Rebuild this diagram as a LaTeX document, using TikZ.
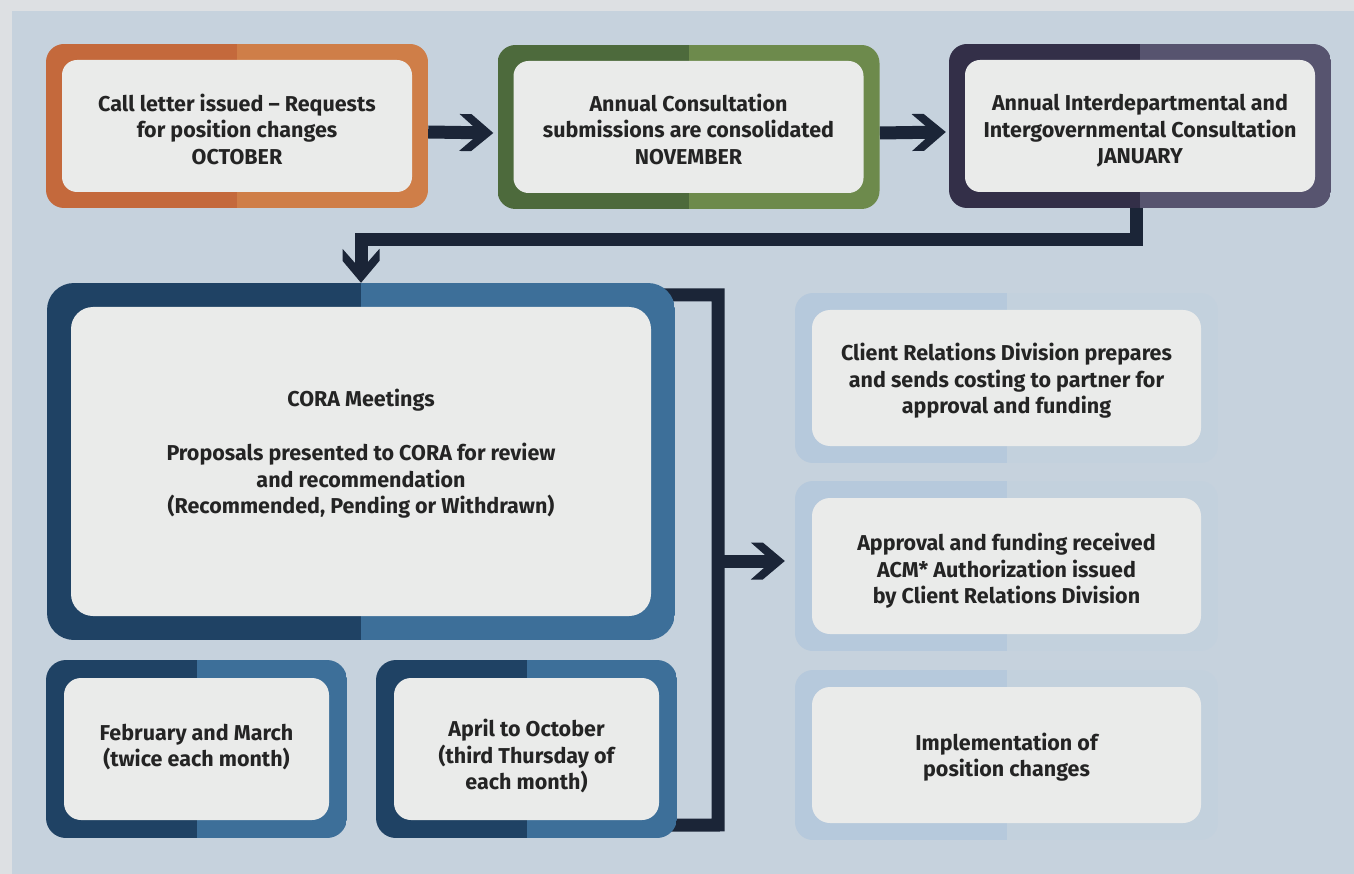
\documentclass[tikz,border=0pt]{standalone}
\usepackage{fontspec}
\setmainfont{Fira Sans}
\usetikzlibrary{calc}

\definecolor{page}{HTML}{DDE0E3}
\definecolor{bg}{HTML}{C6D2DD}
\definecolor{inner}{HTML}{EAEBEA}
\definecolor{txt}{HTML}{242424}
\definecolor{conn}{HTML}{1B2537}
\definecolor{orangeL}{HTML}{C4693C}
\definecolor{orangeR}{HTML}{CF7E48}
\definecolor{greenL}{HTML}{4D6A3C}
\definecolor{greenR}{HTML}{6D8A4C}
\definecolor{purpleL}{HTML}{332F48}
\definecolor{purpleR}{HTML}{57546F}
\definecolor{blueL}{HTML}{1F4264}
\definecolor{blueR}{HTML}{3D6F99}
\definecolor{paleL}{HTML}{B6C9DC}
\definecolor{paleR}{HTML}{C3D1DD}

\pgfdeclarelayer{back}
\pgfsetlayers{back,main}

% thick chevron head used on every connector
\pgfdeclarearrow{
  name = Chevron,
  setup code = {
    \pgfarrowssettipend{0pt}
    \pgfarrowssetlineend{-8pt}
    \pgfarrowssetbackend{-34pt}
    \pgfarrowsupperhullpoint{-34pt}{18.5pt}
    \pgfarrowshullpoint{0pt}{0pt}
  },
  drawing code = {
    \pgfsetfillcolor{conn}
    \pgfpathmoveto{\pgfqpoint{0pt}{0pt}}
    \pgfpathlineto{\pgfqpoint{-22pt}{18.5pt}}
    \pgfpathlineto{\pgfqpoint{-34pt}{18.5pt}}
    \pgfpathlineto{\pgfqpoint{-13pt}{0pt}}
    \pgfpathlineto{\pgfqpoint{-34pt}{-18.5pt}}
    \pgfpathlineto{\pgfqpoint{-22pt}{-18.5pt}}
    \pgfpathclose
    \pgfusepathqfill
  }
}

\tikzset{
  % #1 left frame colour, #2 right frame colour, #3 frame thickness,
  % #4 outer corner radius, #5 inner corner radius
  framed/.style n args={5}{
    rectangle, inner sep=0pt,
    rounded corners=#4,
    path picture={
      \fill[#1, sharp corners] (path picture bounding box.north west)
        rectangle (path picture bounding box.south);
      \fill[#2, sharp corners] (path picture bounding box.north)
        rectangle (path picture bounding box.south east);
      \fill[inner, rounded corners=#5]
        ([shift={(#3,#3)}]path picture bounding box.north west)
        rectangle ([shift={(-#3,-#3)}]path picture bounding box.south east);
    }
  },
  boxtext/.style={align=center, text=txt, inner sep=0pt,
    font=\fontsize{21.5}{26.5}\selectfont\bfseries},
  % text placed in the box, lowered by #1
  says/.style 2 args={label={[boxtext, shift={(0,#1)}]center:{#2}}},
  topbox/.style={framed={#1L}{#1R}{16}{18pt}{15pt},
    minimum width=382pt, minimum height=164pt},
  sidebox/.style={framed={paleL}{paleR}{17}{18pt}{18pt},
    minimum width=423pt, minimum height=170pt},
  datebox/.style={framed={blueL}{blueR}{18}{20pt}{17pt},
    minimum width=301pt, minimum height=178pt},
  link/.style={draw=conn, line width=13pt, line join=miter},
}

\begin{document}
\begin{tikzpicture}[x=1pt, y=-1pt]
\useasboundingbox (0,0) rectangle (1354,874);

% yearly cycle
\node[topbox=orange, says={3}{Call letter issued – Requests\\for position changes\\OCTOBER}]
  (oct) at (237,126) {};
\node[topbox=green, says={2}{Annual Consultation\\submissions are consolidated\\NOVEMBER}]
  (nov) at (688.5,127) {};
\node[topbox=purple, says={5}{Annual Interdepartmental and\\Intergovernmental Consultation\\JANUARY}]
  (jan) at (1140,126) {};

% review meetings
\node[framed={blueL}{blueR}{24}{27pt}{22pt},
      minimum width=628pt, minimum height=357pt,
      says={-8}{CORA Meetings\\[28pt]Proposals presented to CORA for review\\and recommendation\\(Recommended, Pending or Withdrawn)}]
  (cora) at (361,461.5) {};

\node[datebox, says={-2}{February and March\\(twice each month)}] (feb) at (196.5,749) {};
\node[datebox, says={7}{April to October\\(third Thursday of\\each month)}] (apr) at (526.5,749) {};

% follow-up by Client Relations
\node[sidebox, says={3}{Client Relations Division prepares\\and sends costing to partner for\\approval and funding}]
  (r1) at (1006.5,378) {};
\node[sidebox, says={5}{Approval and funding received\\ACM* Authorization issued\\by Client Relations Division}]
  (r2) at (1006.5,566) {};
\node[sidebox, says={2}{Implementation of\\position changes}]
  (r3) at (1006.5,755) {};

\coordinate (elbow) at (718,825);
\coordinate (junction) at (718,561);

\begin{pgfonlayer}{back}
  \fill[page] (0,0) rectangle (1354,874);
  \fill[bg] (12,11) rectangle (1354,874);

  \draw[link, -{Chevron}] ([shift={(0,6)}]oct.east) -- ([shift={(-4,6)}]nov.west);
  \draw[link, -{Chevron}] ([shift={(0,6)}]nov.east) -- ([shift={(-3,6)}]jan.west);
  \draw[link, -{Chevron}] ([shift={(-4,-10)}]jan.south)
    |- ([shift={(0,-43)}]cora.north) -- (cora.north);
  \draw[link] ([shift={(-12,12)}]cora.north east) -| (elbow)
    -- ([shift={(-12,-13)}]apr.south east);
  \draw[link, -{Chevron}] (junction) -- ([shift={(-10,-5)}]r2.west);
\end{pgfonlayer}
\end{tikzpicture}
\end{document}
